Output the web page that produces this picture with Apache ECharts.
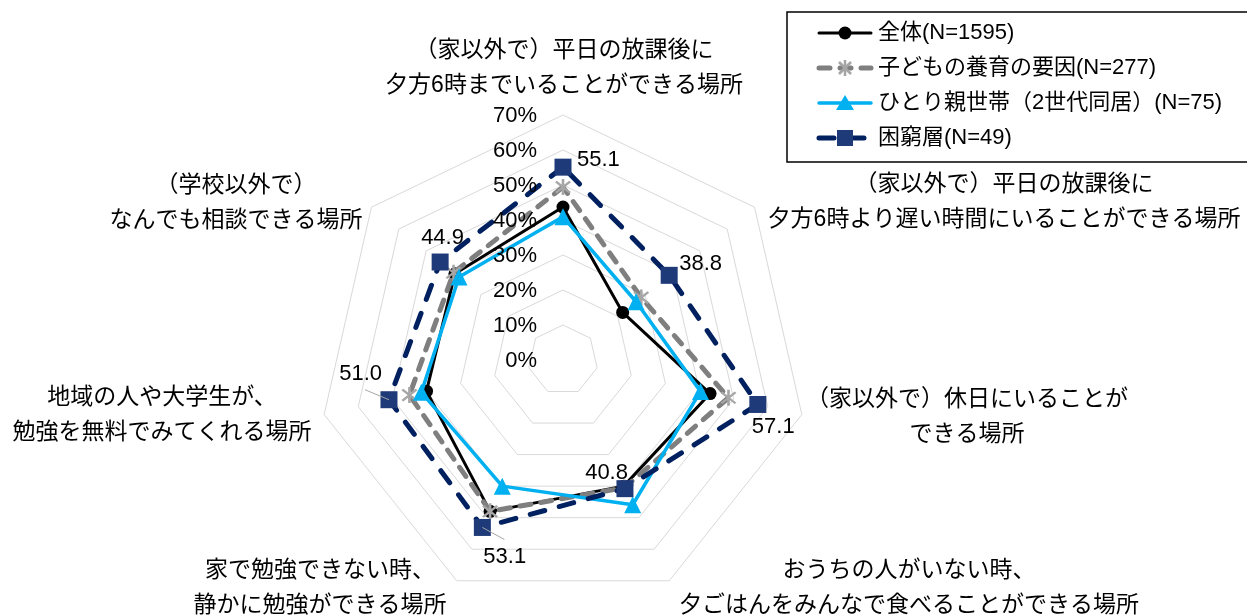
<!DOCTYPE html>
<html>
<head>
<meta charset="UTF-8">
<title>居場所の利用意向 レーダーチャート</title>
<script src="https://cdn.jsdelivr.net/npm/echarts@6.0.0/dist/echarts.min.js"></script>
<style>
html, body { margin: 0; padding: 0; background: #fff; }
#main { width: 1247px; height: 616px; }
</style>
</head>
<body>
<div id="main"></div>
<script>
// 項目（図の上から時計回り）
var categories = [
  '（家以外で）平日の放課後に\n夕方6時までいることができる場所',
  '（家以外で）平日の放課後に\n夕方6時より遅い時間にいることができる場所',
  '（家以外で）休日にいることが\nできる場所',
  'おうちの人がいない時、\n夕ごはんをみんなで食べることができる場所',
  '家で勉強できない時、\n静かに勉強ができる場所',
  '地域の人や大学生が、\n勉強を無料でみてくれる場所',
  '（学校以外で）\nなんでも相談できる場所'
];
var seriesNames = ['全体(N=1595)', '子どもの養育の要因(N=277)', 'ひとり親世帯（2世代同居）(N=75)', '困窮層(N=49)'];
var zentai    = [43.7, 21.8, 43.1, 40.0, 48.0, 40.0, 39.5];
var kodomo    = [49.4, 28.6, 48.5, 40.5, 48.0, 45.0, 40.0];
var hitorioya = [40.9, 26.7, 40.3, 45.9, 40.0, 41.5, 38.0];
var konkyu    = [55.1, 38.8, 57.1, 40.8, 53.1, 51.0, 44.9];
var tickValues = [0, 10, 20, 30, 40, 50, 60, 70];

var FONT = "'Liberation Sans', 'Noto Sans CJK JP', sans-serif";

// echarts の radar は反時計回りに並ぶので、時計回りになるよう並べ替える
var ecOrder = [0, 6, 5, 4, 3, 2, 1];
function toEc(arr) { return ecOrder.map(function (i) { return arr[i]; }); }

var starPath = 'path://M-1.3,-10L1.3,-10L1.3,10L-1.3,10Z' +
  'M-6.08,-7.92L7.92,6.08L6.08,7.92L-7.92,-6.08Z' +
  'M7.92,-6.08L-6.08,7.92L-7.92,6.08L6.08,-7.92Z';

var styles = [
  { line: '#000000', width: 3, type: 'solid', symbol: 'circle', size: 13, mark: '#000000' },
  { line: '#7f7f7f', width: 5, type: [11, 10], symbol: starPath, size: 16, mark: '#a6a6a6' },
  { line: '#00b0f0', width: 3.5, type: 'solid', symbol: 'triangle', size: 17, mark: '#00b0f0' },
  { line: '#002060', width: 5, type: [15, 15], symbol: 'rect', size: 17, mark: '#1f3a78' }
];
var allValues = [zentai, kodomo, hitorioya, konkyu];

var chart = echarts.init(document.getElementById('main'));

var series = allValues.map(function (vals, k) {
  var s = styles[k];
  return {
    type: 'radar',
    name: seriesNames[k],
    z: 2 + k,
    symbol: s.symbol,
    symbolSize: s.size,
    symbolKeepAspect: true,
    lineStyle: { color: s.line, width: s.width, type: s.type, cap: 'round' },
    itemStyle: { color: s.mark, borderWidth: 0 },
    label: { show: false },
    data: [{ name: seriesNames[k], value: toEc(vals) }]
  };
});

chart.setOption({
  animation: false,
  backgroundColor: '#ffffff',
  radar: {
    center: [563, 360],
    radius: 245,
    startAngle: 90,
    shape: 'polygon',
    splitNumber: 7,
    indicator: toEc(categories).map(function (n) { return { name: n, min: 0, max: 70 }; }),
    axisName: { show: false },
    axisLine: { show: false },
    axisTick: { show: false },
    axisLabel: { show: false },
    splitLine: { lineStyle: { color: '#d9d9d9', width: 1 } },
    splitArea: { show: false }
  },
  series: series
});

// 座標は radar の座標系から取る
var radarCs = chart.getModel().getComponent('radar').coordinateSystem;
function pt(v, refIdx) { return radarCs.dataToPoint(v, ecOrder.indexOf(refIdx)); }

var graphics = [];

// 目盛ラベル（上の軸のみ）
tickValues.forEach(function (v) {
  var p = pt(v, 0);
  graphics.push({
    type: 'text', x: p[0] - 26, y: p[1] + 1, z: 20,
    style: { text: v + '%', fill: '#000', font: '22px ' + FONT, textAlign: 'right', textVerticalAlign: 'middle' }
  });
});

// 項目名
var namePos = [[564, 68], [1004, 202], [967, 417], [909, 588], [320, 588], [162, 415], [236, 203]];
categories.forEach(function (c, i) {
  graphics.push({
    type: 'text', x: namePos[i][0], y: namePos[i][1], z: 20,
    style: { text: c, fill: '#000', font: '23px ' + FONT, lineHeight: 35, textAlign: 'center', textVerticalAlign: 'middle' }
  });
});

// 困窮層のデータラベル
var labelOff = [[14, -7, 'left'], [10, -11, 'left'], [-6, 22, 'left'], [3, -16, 'right'], [1, 29, 'left'], [-7, -26, 'right'], [-19, -24, 'left']];
var leaders = { 5: [-24, -10], 4: [22, 12] };
konkyu.forEach(function (v, i) {
  var p = pt(v, i);
  if (leaders[i]) {
    graphics.push({
      type: 'line', z: 19,
      shape: { x1: p[0], y1: p[1], x2: p[0] + leaders[i][0], y2: p[1] + leaders[i][1] },
      style: { stroke: '#a6a6a6', lineWidth: 1 }
    });
  }
  graphics.push({
    type: 'text', x: p[0] + labelOff[i][0], y: p[1] + labelOff[i][1], z: 20,
    style: { text: v.toFixed(1), fill: '#000', font: '22px ' + FONT, textAlign: labelOff[i][2], textVerticalAlign: 'middle' }
  });
});

// 凡例
graphics.push({
  type: 'rect', z: 20,
  shape: { x: 787, y: 12, width: 480, height: 150 },
  style: { fill: '#fff', stroke: '#000', lineWidth: 1.5 }
});
var legY = [33, 68, 103, 138];
seriesNames.forEach(function (n, k) {
  var s = styles[k], y = legY[k];
  graphics.push({
    type: 'line', z: 21,
    shape: { x1: 819, y1: y, x2: 871, y2: y },
    style: { stroke: s.line, lineWidth: s.width, lineDash: s.type === 'solid' ? null : s.type, lineCap: 'round' }
  });
  if (k === 0) {
    graphics.push({ type: 'circle', z: 22, shape: { cx: 845, cy: y, r: 6.5 }, style: { fill: s.mark } });
  } else if (k === 1) {
    [[0, -8, 0, 8], [-6, -6, 6, 6], [6, -6, -6, 6]].forEach(function (a) {
      graphics.push({ type: 'line', z: 22, shape: { x1: 845 + a[0], y1: y + a[1], x2: 845 + a[2], y2: y + a[3] }, style: { stroke: s.mark, lineWidth: 2.6 } });
    });
  } else if (k === 2) {
    graphics.push({ type: 'polygon', z: 22, shape: { points: [[845, y - 8], [854, y + 7], [836, y + 7]] }, style: { fill: s.mark } });
  } else {
    graphics.push({ type: 'rect', z: 22, shape: { x: 837, y: y - 8, width: 16, height: 16 }, style: { fill: s.mark } });
  }
  graphics.push({
    type: 'text', x: 878, y: y, z: 22,
    style: { text: n, fill: '#000', font: '22px ' + FONT, textAlign: 'left', textVerticalAlign: 'middle' }
  });
});

chart.setOption({ graphic: graphics });
</script>
</body>
</html>
